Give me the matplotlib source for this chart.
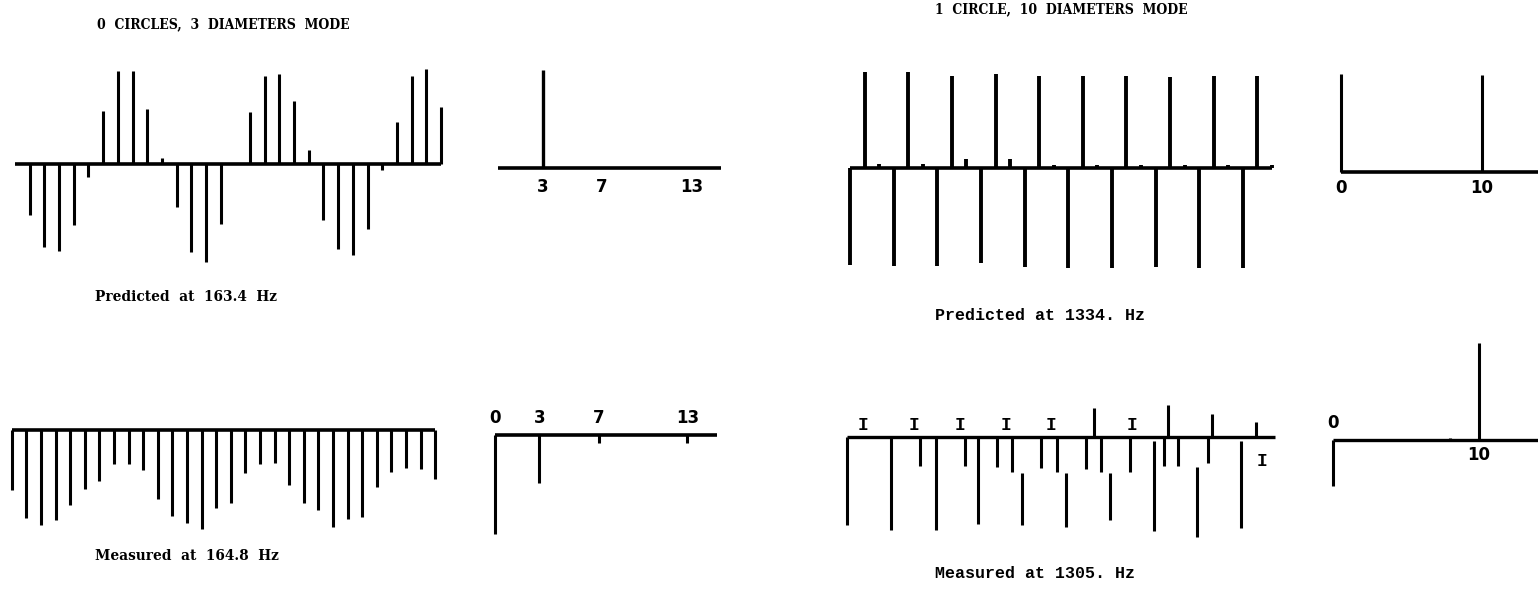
import matplotlib
matplotlib.use("Agg")
import matplotlib.pyplot as plt
import numpy as np

W, H = 1538, 589

# blade amplitudes, 30 blades, arbitrary units (+ = up)
pred_3d = [0, -51, -83, -87, -61, -13, 53, 93, 93, 55, 6, -43, -88, -98, -60,
           0, 52, 88, 90, 63, 14, -56, -85, -91, -65, -6, 42, 88, 95, 57]
meas_3d = [-60, -88, -95, -90, -75, -59, -51, -34, -34, -40, -69, -86, -93, -99, -78,
           -73, -43, -34, -33, -55, -73, -80, -97, -89, -87, -57, -42, -38, -39, -49]
pred_10d = [-97, 96, 4, -98, 96, 4, -98, 92, 9, -95, 94, 9, -99, 92, 3,
            -100, 92, 3, -100, 92, 3, -99, 91, 3, -100, 92, 3, -100, 92, 3]

# measured 10-diameter trace: stem position (blade), tip, and where the pen started
meas_10d_pos = [0.0, 3.0, 5.0, 6.1, 8.1, 9.0, 10.3, 11.3, 12.0, 13.3, 14.4, 15.0, 16.4,
                17.4, 18.0, 19.4, 21.0, 21.7, 22.7, 24.0, 24.7, 27.0,
                16.9, 22.0, 25.0, 28.0]
meas_10d_tip = [-88, -93, -29, -93, -29, -87, -30, -35, -88, -31, -35, -90, -32,
                -35, -83, -35, -94, -29, -29, -100, -26, -91,
                29, 32, 23, 15]
meas_10d_start = [0, 0, 0, 0, 0, 0, 0, 0, -36, 0, 0, -36, 0,
                  0, -36, 0, -4, 0, 0, -30, 0, -4,
                  0, 0, 0, 0]
meas_10d_mark_pos = [1.07, 4.6, 7.75, 10.9, 14.0, 19.5, 28.4]
meas_10d_mark_val = [11, 11, 11, 11, 11, 11, -25]

# harmonic content (nodal diameter order, amplitude)
spec_pred_3d_order, spec_pred_3d_amp = [3], [98]
spec_meas_3d_order, spec_meas_3d_amp = [0, 3, 7, 13], [-99, -48, -8, -8]
spec_pred_10d_order, spec_pred_10d_amp = [0, 10], [98, 97]
spec_meas_10d_order, spec_meas_10d_amp = [0, 8, 10], [-46, 2, 97]

labels_3d = [3, 7, 13]
labels_meas_3d = [0, 3, 7, 13]
labels_10d = [0, 10]

max_order = 15

title_font = dict(family="DejaVu Serif", weight="bold", stretch="condensed", fontsize=10)
caption_font = dict(family="DejaVu Serif", weight="bold", stretch="condensed", fontsize=11)
mono_font = dict(family="Liberation Mono", weight="bold", fontsize=12)
num_font = dict(family="DejaVu Sans", weight="bold", fontsize=12)


def place(fig, box, x0, dx, y0):
    """Axes over a pixel box (l, t, r, b); data x=0 sits at x0 px, dx px per unit,
    baseline at y0 px, one unit of amplitude per pixel."""
    l, t, r, b = box
    ax = fig.add_axes([l / W, 1 - b / H, (r - l) / W, (b - t) / H])
    ax.set_xlim((l - x0) / dx, (r - x0) / dx)
    ax.set_ylim(y0 - b, y0 - t)
    ax.axis("off")
    return ax


def blade_trace(ax, values, lw=2.2):
    x = np.arange(len(values))
    ax.hlines(0, 0, len(values) - 1, color="black", lw=2.6)
    ax.vlines(x, 0, values, color="black", lw=lw)


fig = plt.figure(figsize=(W / 100, H / 100), dpi=100)

# 0 circles, 3 diameters
ax = place(fig, (0, 40, 460, 280), 15, 14.69, 164)
blade_trace(ax, pred_3d)

ax = place(fig, (0, 330, 460, 545), 11.7, 14.6, 430)
blade_trace(ax, meas_3d)

ax = place(fig, (470, 40, 760, 280), 498, 14.87, 168)
ax.hlines(0, 0, max_order, color="black", lw=2.6)
ax.vlines(spec_pred_3d_order, 0, spec_pred_3d_amp, color="black", lw=2.4)
for n in labels_3d:
    ax.text(n, -19, str(n), ha="center", va="center", **num_font)

ax = place(fig, (470, 380, 760, 560), 495, 14.8, 435)
ax.hlines(0, 0, max_order, color="black", lw=2.6)
ax.vlines(spec_meas_3d_order, 0, spec_meas_3d_amp, color="black", lw=2.2)
for n in labels_meas_3d:
    ax.text(n, 17, str(n), ha="center", va="center", **num_font)

# 1 circle, 10 diameters
ax = place(fig, (830, 40, 1290, 300), 850, 14.55, 168)
blade_trace(ax, pred_10d, lw=2.8)

ax = place(fig, (830, 380, 1290, 560), 847, 14.6, 437)
ax.hlines(0, 0, 29.3, color="black", lw=2.4)
ax.vlines(meas_10d_pos, meas_10d_start, meas_10d_tip, color="black", lw=2.2)
for p, v in zip(meas_10d_mark_pos, meas_10d_mark_val):
    ax.text(p, v, "I", ha="center", va="center", family="Liberation Mono",
            weight="bold", fontsize=13)

ax = place(fig, (1300, 40, W, 300), 1341, 14.1, 172)
ax.hlines(0, 0, max_order, color="black", lw=2.6)
ax.vlines(spec_pred_10d_order, 0, spec_pred_10d_amp, color="black", lw=2.2)
for n in labels_10d:
    ax.text(n, -16, str(n), ha="center", va="center", **num_font)

ax = place(fig, (1300, 320, W, 560), 1333, 14.6, 440)
ax.hlines(0, 0, max_order, color="black", lw=2.4)
ax.vlines(spec_meas_10d_order, 0, spec_meas_10d_amp, color="black", lw=2.2)
ax.text(0, 17, "0", ha="center", va="center", **num_font)
ax.text(10, -15, "10", ha="center", va="center", **num_font)

# headings and captions
fig.text(97 / W, 1 - 24 / H, "0  CIRCLES,  3  DIAMETERS  MODE", va="center", **title_font)
fig.text(935 / W, 1 - 9 / H, "1  CIRCLE,  10  DIAMETERS  MODE", va="center", **title_font)
fig.text(95 / W, 1 - 297 / H, "Predicted  at  163.4  Hz", va="center", **caption_font)
fig.text(95 / W, 1 - 556 / H, "Measured  at  164.8  Hz", va="center", **caption_font)
fig.text(935 / W, 1 - 316 / H, "Predicted at 1334. Hz", va="center", **mono_font)
fig.text(935 / W, 1 - 573 / H, "Measured at 1305. Hz", va="center", **mono_font)

fig.savefig("out.png", dpi=100)
plt.close(fig)
